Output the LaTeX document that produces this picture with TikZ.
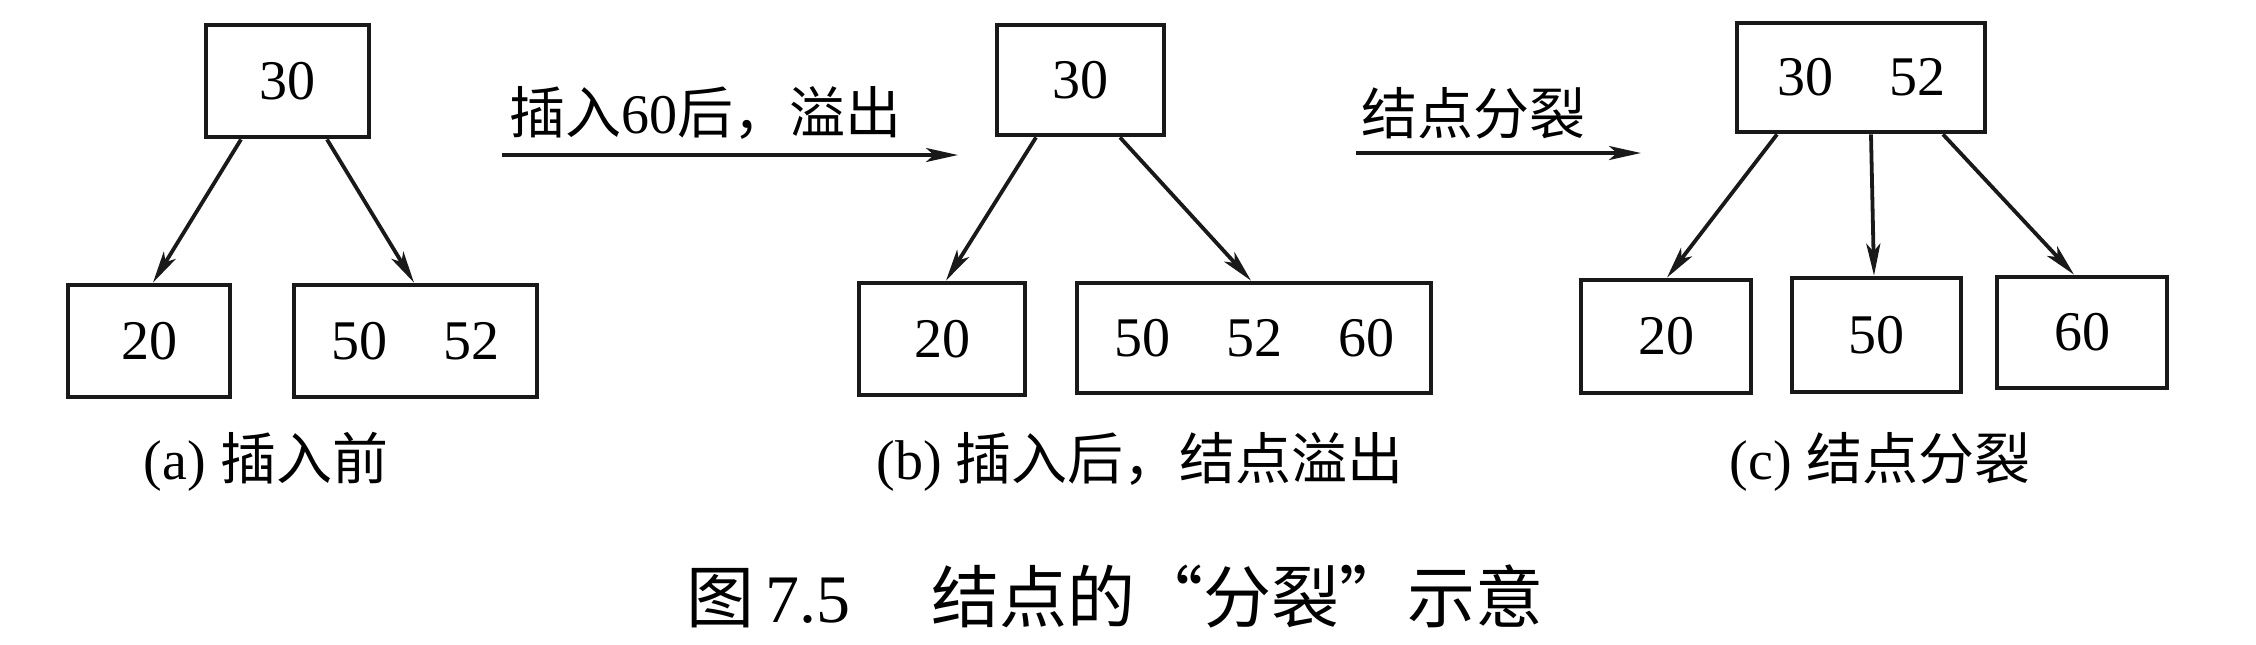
\documentclass[tikz,border=0pt]{standalone}
\usepackage{fontspec}
\setmainfont{Liberation Serif}
\newfontfamily\cjk{Noto Sans CJK SC}
\usetikzlibrary{arrows.meta}
\begin{document}
\begin{tikzpicture}[x=0.5pt,y=-0.5pt,
  box/.style={draw=black!90,line width=2.4pt,inner sep=0pt,font=\fontsize{28}{30}\selectfont},
  link/.style={draw=black!90,line width=1.9pt,-{Stealth[length=16pt,width=7pt,inset=4pt]}},
  lbl/.style={inner sep=0pt,font=\fontsize{28}{30}\selectfont},
  subcap/.style={inner sep=0pt,font=\fontsize{28}{30}\selectfont},
  figtitle/.style={inner sep=0pt,font=\fontsize{34}{36}\selectfont}]
\useasboundingbox[fill=white] (0,0) rectangle (2256,644);
% (a)
\node[box,minimum width=81.5pt,minimum height=56pt] (ra) at (287.5,81) {30};
\node[box,minimum width=81pt,minimum height=56pt] (a1) at (149,341) {20};
\node[box,minimum width=121.5pt,minimum height=56pt] (a2) at (415.5,341) {50\quad 52};
\draw[link] ([xshift=-23.25pt]ra.south) -- ([xshift=2pt]a1.north);
\draw[link] ([xshift=19.75pt]ra.south) -- ([xshift=-0.75pt]a2.north);
\node[subcap] (capa) at (266,462) {(a) {\cjk 插入前}};
% transition 1
\coordinate (t1s) at (502,155);
\coordinate (t1e) at (958,155);
\draw[link] (t1s) -- (t1e);
\node[lbl,anchor=west] (l1) at (509,113) {{\cjk 插入}60{\cjk 后，溢出}};
% (b)
\node[box,minimum width=83.5pt,minimum height=55pt] (rb) at (1080.5,80) {30};
\node[box,minimum width=83pt,minimum height=56pt] (b1) at (942,339) {20};
\node[box,minimum width=177pt,minimum height=55pt] (b2) at (1254,338) {50\quad 52\quad 60};
\draw[link] ([xshift=-22.25pt]rb.south) -- ([xshift=2pt]b1.north);
\draw[link] ([xshift=19.75pt]rb.south) -- ([xshift=-1.5pt]b2.north);
\node[subcap] (capb) at (1140,462) {(b) {\cjk 插入后，结点溢出}};
% transition 2
\coordinate (t2s) at (1356,153);
\coordinate (t2e) at (1641,153);
\draw[link] (t2s) -- (t2e);
\node[lbl,anchor=west] (l2) at (1361,113) {\cjk 结点分裂};
% (c)
\node[box,minimum width=124pt,minimum height=54.5pt] (rc) at (1861,77.5) {30\quad 52};
\node[box,minimum width=85pt,minimum height=56.5pt] (c1) at (1666,336.5) {20};
\node[box,minimum width=84.5pt,minimum height=57pt] (c2) at (1876.5,335) {50};
\node[box,minimum width=85pt,minimum height=55.5pt] (c3) at (2082,332.5) {60};
\draw[link] ([xshift=-42pt]rc.south) -- ([xshift=0.5pt]c1.north);
\draw[link] ([xshift=5pt]rc.south) -- ([xshift=-1.25pt]c2.north);
\draw[link] ([xshift=41pt]rc.south) -- ([xshift=-4pt]c3.north);
\node[subcap] (capc) at (1880,462) {(c) {\cjk 结点分裂}};
% figure caption
\node[figtitle] (fig) at (1115,596) {{\cjk 图}\,7.5\hspace{1.2em}{\cjk 结点的“分裂”示意}};
\end{tikzpicture}
\end{document}
